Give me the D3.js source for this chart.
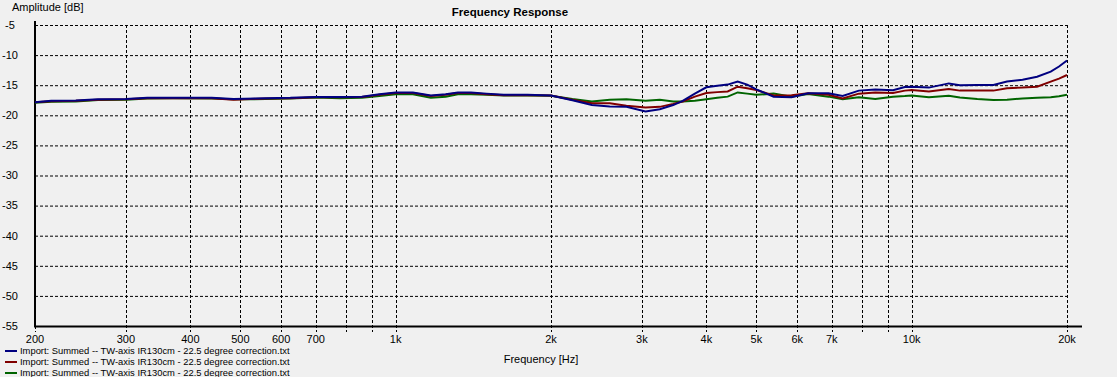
<!DOCTYPE html>
<html>
<head>
<meta charset="utf-8">
<script src="https://cdn.jsdelivr.net/npm/d3@7"></script>
<style>
  body { margin: 0; background: #f0f0f0; }
  svg { display: block; font-family: Tahoma, 'Liberation Sans', 'DejaVu Sans', sans-serif; }
</style>
</head>
<body>
<div id="chart"></div>
<script>
const freqs = [200, 215, 240, 265, 300, 330, 370, 440, 485, 560, 625, 700, 780, 860, 930, 1000, 1080, 1170, 1250, 1320, 1400, 1500, 1620, 1800, 2000, 2200, 2400, 2600, 2800, 3050, 3250, 3450, 3600, 3800, 4000, 4200, 4400, 4600, 4800, 5000, 5400, 5850, 6300, 6900, 7350, 7900, 8500, 9200, 9700, 10000, 10800, 11800, 12400, 13400, 14400, 15300, 16400, 17500, 18600, 19300, 20000];

const blueDb = [-17.85, -17.6, -17.55, -17.35, -17.3, -17.1, -17.1, -17.1, -17.3, -17.15, -17.1, -16.95, -16.95, -16.9, -16.5, -16.2, -16.2, -16.7, -16.5, -16.2, -16.2, -16.4, -16.6, -16.6, -16.7, -17.5, -18.3, -18.55, -18.6, -19.35, -19.0, -18.3, -17.6, -16.4, -15.35, -15.1, -14.9, -14.4, -14.9, -15.7, -16.9, -17.0, -16.35, -16.35, -16.8, -15.9, -15.7, -15.85, -15.3, -15.25, -15.4, -14.7, -15.0, -14.95, -14.95, -14.4, -14.1, -13.6, -12.75, -11.9, -10.9];

const redDb = [-17.85, -17.65, -17.6, -17.4, -17.35, -17.15, -17.15, -17.15, -17.4, -17.2, -17.15, -17.0, -17.0, -16.95, -16.6, -16.3, -16.3, -16.8, -16.6, -16.3, -16.3, -16.5, -16.65, -16.65, -16.7, -17.4, -18.0, -18.0, -18.4, -18.7, -18.6, -18.1, -17.7, -16.9, -16.3, -16.15, -16.05, -15.25, -15.5, -15.8, -16.7, -16.65, -16.35, -16.6, -17.2, -16.4, -16.2, -16.3, -15.9, -15.8, -16.05, -15.65, -15.9, -15.9, -15.9, -15.5, -15.4, -15.25, -14.4, -13.9, -13.3];

const greenDb = [-17.9, -17.75, -17.7, -17.45, -17.4, -17.2, -17.15, -17.2, -17.35, -17.3, -17.2, -17.05, -17.15, -17.1, -16.8, -16.5, -16.5, -17.1, -16.9, -16.5, -16.5, -16.6, -16.7, -16.7, -16.75, -17.3, -17.7, -17.4, -17.35, -17.6, -17.4, -17.7, -17.7, -17.6, -17.35, -17.1, -16.9, -16.2, -16.4, -16.6, -16.4, -16.9, -16.45, -16.9, -17.35, -17.0, -17.3, -16.9, -16.8, -16.7, -17.0, -16.75, -17.05, -17.3, -17.45, -17.4, -17.2, -17.1, -17.0, -16.85, -16.6];

const seriesNames = [
  'Import: Summed -- TW-axis IR130cm - 22.5 degree correction.txt',
  'Import: Summed -- TW-axis IR130cm - 22.5 degree correction.txt',
  'Import: Summed -- TW-axis IR130cm - 22.5 degree correction.txt'
];
const seriesColors = ['#000080', '#800000', '#006400'];

const gridFreqs = [200, 300, 400, 500, 600, 700, 800, 900, 1000, 2000, 3000, 4000, 5000, 6000, 7000, 8000, 9000, 10000, 20000];
const labelFreqs = [200, 300, 400, 500, 600, 700, 1000, 2000, 3000, 4000, 5000, 6000, 7000, 10000, 20000];
const yTicks = [-5, -10, -15, -20, -25, -30, -35, -40, -45, -50, -55];

const width = 1117, height = 377;
const margin = { left: 35, right: 50, top: 25, bottom: 51 };

const svg = d3.select('#chart').append('svg')
  .attr('width', width)
  .attr('height', height);

svg.append('rect').attr('width', width).attr('height', height).attr('fill', '#f0f0f0');

const x = d3.scaleLog().domain([200, 20000]).range([margin.left, width - margin.right]);
const y = d3.scaleLinear().domain([-55, -5]).range([height - margin.bottom, margin.top]);

const fmt = (f) => f >= 1000 ? (f / 1000) + 'k' : String(f);

// grid
const grid = svg.append('g').attr('class', 'grid');
grid.selectAll('.hgrid')
  .data(yTicks.filter(d => d !== -55))
  .enter().append('line')
  .attr('x1', margin.left).attr('x2', x(20000))
  .attr('y1', d => y(d) + 0.5).attr('y2', d => y(d) + 0.5)
  .attr('stroke', '#000').attr('stroke-width', 1)
  .attr('stroke-dasharray', '3,2');

grid.selectAll('.vgrid')
  .data(gridFreqs.filter(d => d !== 200))
  .enter().append('line')
  .attr('x1', d => Math.round(x(d)) + 0.5).attr('x2', d => Math.round(x(d)) + 0.5)
  .attr('y1', y(-5)).attr('y2', y(-55) + 6)
  .attr('stroke', '#000').attr('stroke-width', 1)
  .attr('stroke-dasharray', '3,2');

// axes lines
svg.append('line')
  .attr('x1', margin.left).attr('x2', margin.left)
  .attr('y1', 21).attr('y2', y(-55) + 1)
  .attr('stroke', '#000').attr('stroke-width', 2);

svg.append('line')
  .attr('x1', margin.left - 1).attr('x2', 1082)
  .attr('y1', y(-55) + 0.5).attr('y2', y(-55) + 0.5)
  .attr('stroke', '#000').attr('stroke-width', 2);

svg.append('line')
  .attr('x1', margin.left + 0.5).attr('x2', margin.left + 0.5)
  .attr('y1', y(-55)).attr('y2', y(-55) + 6)
  .attr('stroke', '#000').attr('stroke-dasharray', '3,2');

// y labels
svg.append('g').selectAll('text')
  .data(yTicks)
  .enter().append('text')
  .attr('x', 10).attr('y', d => y(d))
  .attr('dy', '0.35em')
  .attr('text-anchor', 'middle')
  .attr('font-size', 11)
  .attr('fill', '#000')
  .text(d => d);

// x labels
svg.append('g').selectAll('text')
  .data(labelFreqs)
  .enter().append('text')
  .attr('x', d => x(d)).attr('y', 339)
  .attr('dy', '0.35em')
  .attr('text-anchor', 'middle')
  .attr('font-size', 11)
  .attr('fill', '#000')
  .text(fmt);

svg.append('text')
  .attr('x', 12).attr('y', 7).attr('dy', '0.35em')
  .attr('font-size', 11).attr('fill', '#000')
  .text('Amplitude [dB]');

svg.append('text')
  .attr('x', 510).attr('y', 12).attr('dy', '0.35em')
  .attr('text-anchor', 'middle')
  .attr('font-size', 11.5).attr('font-weight', 'bold').attr('fill', '#000')
  .text('Frequency Response');

svg.append('text')
  .attr('x', 541).attr('y', 359).attr('dy', '0.35em')
  .attr('text-anchor', 'middle')
  .attr('font-size', 11).attr('fill', '#000')
  .text('Frequency [Hz]');

// curves
const line = d3.line()
  .x((d, i) => x(freqs[i]))
  .y(d => y(d));

const plot = svg.append('g').attr('class', 'curves');
[blueDb, redDb, greenDb].slice().reverse().forEach((vals, j) => {
  const idx = 2 - j;
  plot.append('path')
    .attr('d', line(vals))
    .attr('fill', 'none')
    .attr('stroke', seriesColors[idx])
    .attr('stroke-width', 2);
});

// legend
const legend = svg.append('g').attr('class', 'legend');
seriesNames.forEach((name, i) => {
  const ly = 351 + i * 11;
  legend.append('line')
    .attr('x1', 5).attr('x2', 17)
    .attr('y1', ly).attr('y2', ly)
    .attr('stroke', seriesColors[i]).attr('stroke-width', 2);
  legend.append('text')
    .attr('x', 20).attr('y', ly).attr('dy', '0.35em')
    .attr('font-size', 9.4).attr('fill', '#000')
    .text(name);
});
</script>
</body>
</html>
